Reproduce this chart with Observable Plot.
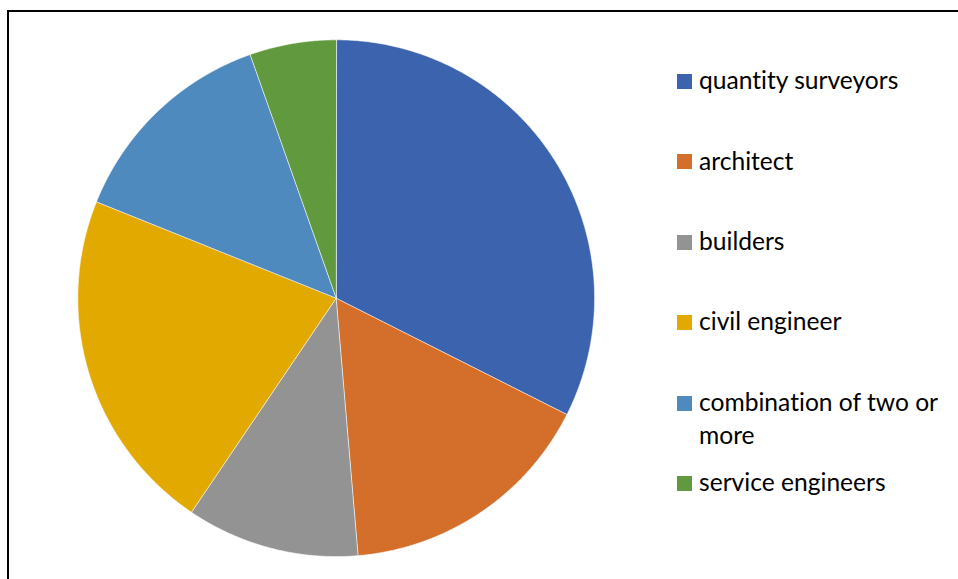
<!DOCTYPE html>
<html>
<head>
<meta charset="utf-8">
<script src="https://cdn.jsdelivr.net/npm/d3@7"></script>
<script src="https://cdn.jsdelivr.net/npm/@observablehq/plot@0.6"></script>
<style>
  html, body { margin: 0; padding: 0; background: #fff; }
  #wrap { position: relative; width: 958px; height: 579px; overflow: hidden; font-family: Lato, "Open Sans", sans-serif; }
  #frame { position: absolute; left: 7px; top: 10px; width: 960px; height: 600px; border-left: 2px solid #000; border-top: 2px solid #000; box-sizing: border-box; }
  #chart { position: absolute; left: 0; top: 0; }
  #legend { position: absolute; left: 677px; top: 0; }
  .item { position: absolute; left: 0; width: 275px; }
  .sw { position: absolute; left: 0; top: 0; width: 15px; height: 15px; }
  .lab { position: absolute; left: 22px; top: -10.8px; width: 255px; font-size: 24.6px; line-height: 33px; color: #000; font-variant-ligatures: none; }
</style>
</head>
<body>
<div id="wrap">
  <div id="frame"></div>
  <div id="chart"></div>
  <div id="legend"></div>
</div>
<script>
const categories = ["quantity surveyors", "architect", "builders", "civil engineer", "combination of two or more", "service engineers"];
const counts = [12, 6, 4, 8, 5, 2];
const colors = ["#3C63AD", "#D46F2B", "#939393", "#E2AA00", "#4F8ABF", "#619A3E"];

// Build slice outlines from the values (clockwise from 12 o'clock)
const arcs = d3.pie().sort(null).startAngle(0).endAngle(2 * Math.PI)(counts);
const pts = [];
arcs.forEach((a, i) => {
  const cat = categories[i];
  pts.push({cat, x: 0, y: 0});
  const n = Math.max(2, Math.ceil((a.endAngle - a.startAngle) / (Math.PI / 720)));
  for (let k = 0; k <= n; k++) {
    const t = a.startAngle + (a.endAngle - a.startAngle) * k / n;
    pts.push({cat, x: Math.sin(t), y: Math.cos(t)});
  }
});

const cx = 335.7, cy = 297.7, r = 258.4;
const chart = Plot.plot({
  width: 958,
  height: 579,
  margin: 0,
  x: {domain: [-1, 1], range: [cx - r, cx + r], axis: null},
  y: {domain: [-1, 1], range: [cy + r, cy - r], axis: null},
  color: {domain: categories, range: colors},
  marks: [
    Plot.line(pts, {x: "x", y: "y", z: "cat", fill: "cat", stroke: "#fff", strokeWidth: 0.6, curve: "linear-closed"})
  ]
});
chart.style.background = "transparent";
document.getElementById("chart").appendChild(chart);

const legend = document.getElementById("legend");
categories.forEach((c, i) => {
  const it = document.createElement("div");
  it.className = "item";
  it.style.top = (74 + i * 80.4) + "px";
  const sw = document.createElement("span");
  sw.className = "sw";
  sw.style.background = colors[i];
  const lab = document.createElement("span");
  lab.className = "lab";
  lab.textContent = c;
  it.appendChild(sw);
  it.appendChild(lab);
  legend.appendChild(it);
});
</script>
</body>
</html>
